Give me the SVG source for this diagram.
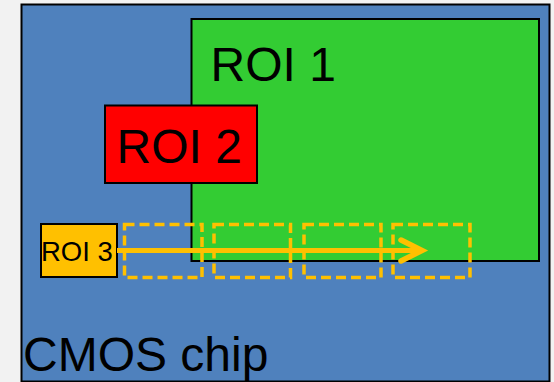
<svg xmlns="http://www.w3.org/2000/svg" width="554" height="382" viewBox="0 0 554 382">
<defs>
<style>
.lbl{font-family:"Liberation Sans",Arial,sans-serif;fill:#000}
.box{stroke:#000;stroke-width:2}
.dash{fill:none;stroke:#ffc000;stroke-width:3.5;stroke-dasharray:10 5}
</style>
</defs>
<rect x="0" y="0" width="554" height="382" fill="#f2f2f2"/>
<g id="chip">
<rect class="box" x="21.5" y="4.5" width="528" height="377" fill="#4f81bd"/>
<text class="lbl" x="23" y="371" font-size="48">CMOS chip</text>
</g>
<g id="roi1">
<rect class="box" x="191.5" y="19" width="347.5" height="242" fill="#33cc33"/>
<text class="lbl" x="210.5" y="80.5" font-size="48">ROI 1</text>
</g>
<g id="roi2">
<rect class="box" x="105" y="105.5" width="152" height="77.5" fill="#ff0000"/>
<text class="lbl" x="116.5" y="162.5" font-size="48">ROI 2</text>
</g>
<g id="roi3">
<rect class="box" x="41" y="224" width="76" height="53" fill="#ffc000"/>
<text class="lbl" x="41" y="261" font-size="27.5">ROI 3</text>
</g>
<g id="positions">
<rect class="dash" x="124.5" y="224.5" width="77.5" height="53"/>
<rect class="dash" x="214" y="224.5" width="76.5" height="53"/>
<rect class="dash" x="304" y="224.5" width="77" height="53"/>
<rect class="dash" x="393" y="224.5" width="77" height="53"/>
</g>
<g id="connectors">
<line x1="117" y1="250.5" x2="421" y2="250.5" stroke="#ffc000" stroke-width="5"/>
<polyline points="401,240 422,250.5 401,261" fill="none" stroke="#ffc000" stroke-width="5.5" stroke-linecap="round" stroke-linejoin="miter"/>
</g>
</svg>
